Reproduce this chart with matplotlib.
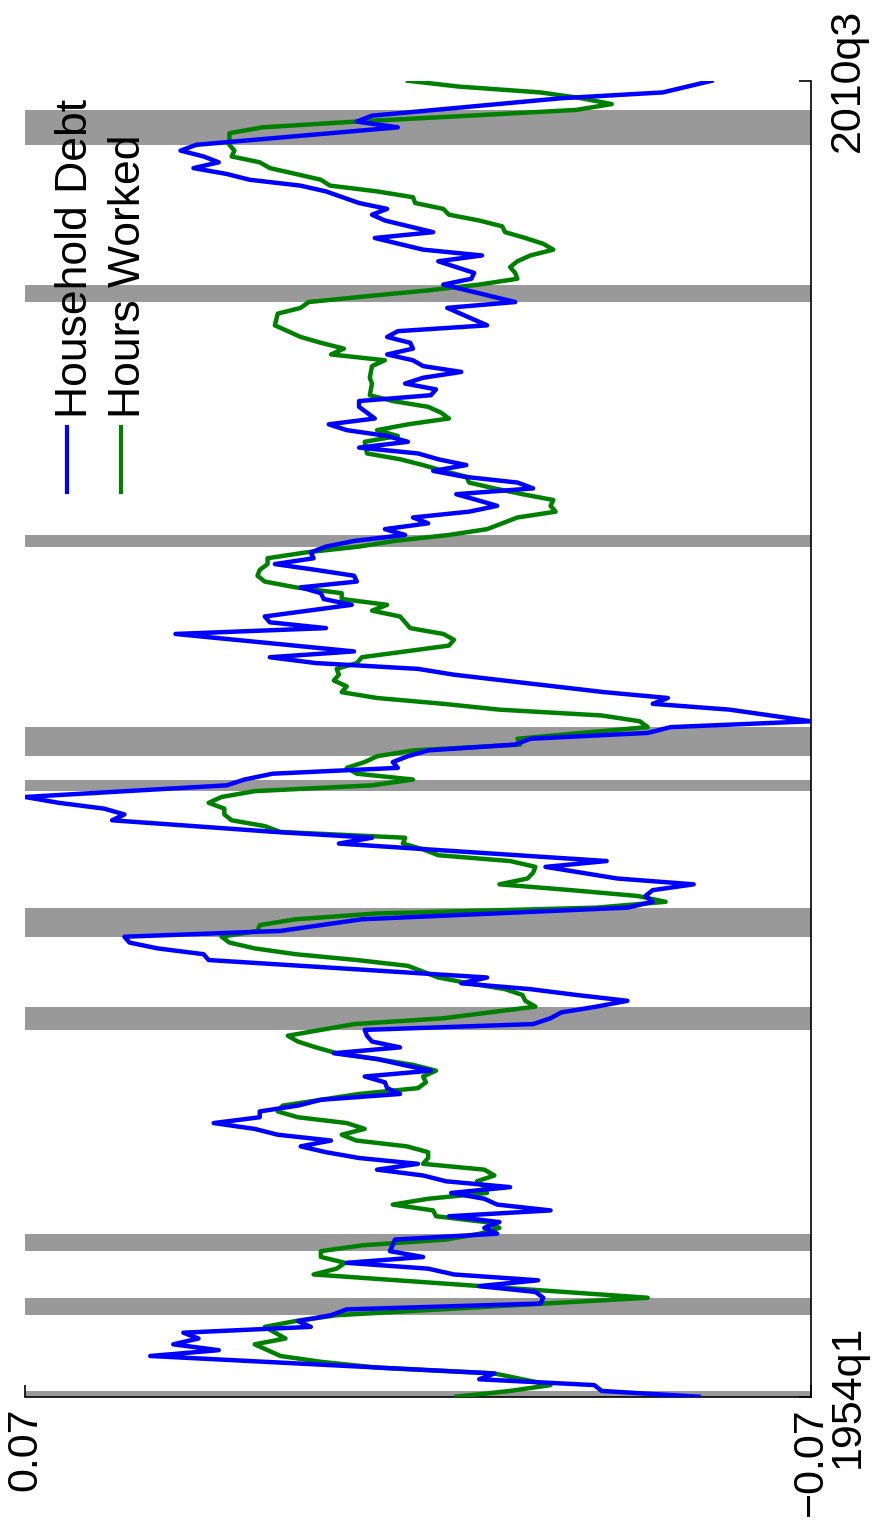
import matplotlib
matplotlib.use("Agg")
import matplotlib.pyplot as plt
from matplotlib.lines import Line2D

plt.rcParams['font.family'] = ['Liberation Sans', 'DejaVu Sans']

# quarters counted from 1954q1 (0) to 2010q3 (226)
tick_quarters = [0, 226]
tick_labels = ['1954q1', '2010q3']
value_ticks = [0.07, -0.07]
value_labels = ['0.07', '\u22120.07']

# NBER recessions, start/end quarter index
rec_start = [0, 14, 25, 63, 79, 104, 110, 146, 188, 215]
rec_end = [1, 17, 28, 67, 84, 106, 115, 148, 191, 221]

debt_q = [0, 1, 2, 3, 4, 7, 8, 9, 10, 11, 12, 13, 14, 15, 16, 17, 18, 19, 20, 21,
          22, 23, 24, 25, 27, 28, 29, 30, 31, 32, 33, 34, 35, 36, 37, 38, 39, 40, 41, 42,
          43, 44, 45, 46, 47, 48, 49, 50, 51, 52, 53, 54, 55, 56, 57, 58, 59, 60, 61, 62,
          63, 64, 65, 66, 67, 68, 69, 70, 71, 72, 75, 76, 77, 78, 79, 80, 81, 82, 84, 85,
          86, 87, 88, 89, 90, 91, 92, 95, 96, 97, 99, 100, 101, 102, 103, 104, 105, 106, 107, 108,
          109, 110, 111, 112, 113, 114, 115, 116, 117, 118, 119, 120, 121, 124, 125, 126, 127, 128, 131, 132,
          133, 134, 135, 136, 137, 138, 139, 140, 141, 142, 143, 144, 145, 146, 147, 148, 149, 150, 151, 152,
          153, 154, 155, 156, 157, 158, 159, 160, 161, 162, 163, 164, 165, 166, 167, 168, 169, 170, 171, 172,
          173, 174, 175, 176, 177, 178, 179, 180, 181, 182, 183, 184, 187, 188, 191, 192, 193, 195, 196, 197,
          199, 200, 202, 203, 204, 205, 207, 208, 209, 210, 211, 212, 213, 214, 215, 218, 219, 220, 223, 224,
          226]
debt_v = [-0.0500, -0.0327, -0.0314, -0.0109, -0.0136, 0.0477, 0.0355, 0.0436, 0.0391, 0.0418,
          0.0191, 0.0214, 0.0155, 0.0127, -0.0218, -0.0223, -0.0209, -0.0109, -0.0214, -0.0064,
          -0.0018, 0.0127, -0.0009, 0.0050, 0.0041, -0.0141, -0.0118, -0.0145, -0.0055, -0.0236,
          -0.0141, -0.0118, -0.0059, -0.0164, -0.0050, -0.0009, 0.0073, 0.0000, 0.0105, 0.0164,
          0.0209, 0.0155, 0.0250, 0.0291, 0.0364, 0.0282, 0.0282, 0.0214, 0.0173, 0.0032,
          0.0055, 0.0059, 0.0095, -0.0023, 0.0027, 0.0073, 0.0150, 0.0032, 0.0082, 0.0091,
          0.0095, -0.0205, -0.0236, -0.0255, -0.0318, -0.0373, -0.0282, -0.0200, -0.0077, -0.0123,
          0.0373, 0.0382, 0.0464, 0.0514, 0.0523, 0.0245, 0.0173, 0.0100, -0.0373, -0.0418,
          -0.0405, -0.0418, -0.0491, -0.0355, -0.0291, -0.0227, -0.0336, 0.0141, 0.0082, 0.0255,
          0.0545, 0.0523, 0.0559, 0.0640, 0.0700, 0.0520, 0.0341, 0.0309, 0.0259, 0.0036,
          0.0045, 0.0018, -0.0018, -0.0173, -0.0200, -0.0409, -0.0450, -0.0700, -0.0627, -0.0555,
          -0.0418, -0.0445, -0.0332, -0.0064, 0.0000, 0.0182, 0.0264, 0.0114, 0.0432, 0.0164,
          0.0264, 0.0273, 0.0195, 0.0118, 0.0168, 0.0173, 0.0209, 0.0109, 0.0114, 0.0182,
          0.0255, 0.0186, 0.0191, 0.0164, 0.0112, 0.0023, 0.0059, -0.0018, 0.0009, -0.0091,
          -0.0141, -0.0105, -0.0068, -0.0205, -0.0177, -0.0082, -0.0027, -0.0086, -0.0036, 0.0000,
          0.0105, 0.0018, 0.0055, 0.0127, 0.0159, 0.0077, 0.0091, 0.0105, 0.0105, -0.0023,
          -0.0032, 0.0023, -0.0009, -0.0077, -0.0009, 0.0009, 0.0055, 0.0009, 0.0014, 0.0055,
          0.0036, -0.0123, -0.0052, -0.0173, -0.0045, -0.0095, -0.0100, -0.0036, -0.0114, -0.0009,
          0.0077, -0.0027, 0.0059, 0.0082, 0.0055, 0.0105, 0.0164, 0.0210, 0.0300, 0.0341,
          0.0400, 0.0355, 0.0382, 0.0423, 0.0395, 0.0036, 0.0109, 0.0082, -0.0255, -0.0436,
          -0.0523]

hours_q = [0, 1, 2, 4, 5, 6, 7, 9, 10, 12, 13, 14, 17, 21, 22, 23, 24, 25, 26, 27,
           28, 29, 30, 31, 32, 33, 34, 35, 36, 37, 38, 39, 40, 41, 42, 43, 44, 45, 46, 47,
           48, 49, 50, 51, 52, 53, 54, 55, 56, 57, 58, 59, 60, 61, 62, 63, 64, 65, 66, 67,
           68, 69, 70, 71, 72, 73, 74, 75, 76, 77, 78, 79, 80, 81, 82, 83, 84, 85, 86, 87,
           88, 89, 90, 91, 92, 93, 94, 95, 96, 97, 98, 99, 100, 101, 102, 103, 104, 105, 106, 107,
           108, 109, 110, 111, 112, 113, 114, 115, 116, 117, 118, 119, 120, 121, 122, 123, 124, 125, 126, 127,
           128, 129, 130, 131, 132, 133, 134, 135, 136, 137, 138, 139, 140, 141, 142, 143, 144, 145, 146, 147,
           148, 149, 150, 151, 152, 153, 154, 155, 156, 157, 158, 159, 160, 161, 162, 164, 165, 166, 167, 168,
           169, 170, 171, 172, 174, 175, 177, 178, 179, 180, 181, 182, 184, 186, 187, 188, 189, 190, 191, 192,
           193, 194, 195, 196, 197, 198, 199, 200, 201, 202, 203, 204, 205, 206, 207, 208, 209, 210, 211, 212,
           213, 214, 215, 217, 218, 219, 220, 221, 222, 223, 224, 225, 226]
hours_v = [-0.0068, -0.0164, -0.0236, -0.0136, 0.0073, 0.0173, 0.0245, 0.0291, 0.0236, 0.0273,
           0.0218, 0.0145, -0.0409, 0.0186, 0.0145, 0.0130, 0.0173, 0.0173, 0.0100, -0.0050,
           -0.0110, -0.0145, -0.0120, -0.0032, -0.0027, 0.0045, -0.0018, -0.0123, -0.0118, -0.0105,
           -0.0136, -0.0118, -0.0009, -0.0018, -0.0018, 0.0020, 0.0110, 0.0136, 0.0095, 0.0127,
           0.0214, 0.0250, 0.0241, 0.0173, 0.0105, 0.0000, -0.0014, -0.0009, -0.0032, 0.0009,
           0.0073, 0.0145, 0.0182, 0.0214, 0.0232, 0.0173, 0.0114, -0.0045, -0.0127, -0.0209,
           -0.0191, -0.0186, -0.0155, -0.0091, -0.0036, -0.0009, 0.0018, 0.0109, 0.0218, 0.0291,
           0.0336, 0.0350, 0.0286, 0.0282, 0.0218, 0.0073, -0.0318, -0.0441, -0.0391, -0.0273,
           -0.0145, -0.0195, -0.0205, -0.0209, -0.0164, -0.0036, -0.0009, 0.0027, 0.0023, 0.0245,
           0.0273, 0.0332, 0.0345, 0.0345, 0.0373, 0.0350, 0.0291, 0.0082, 0.0009, 0.0109,
           0.0127, 0.0095, 0.0073, 0.0009, -0.0182, -0.0177, -0.0291, -0.0409, -0.0395, -0.0327,
           -0.0145, -0.0045, 0.0073, 0.0136, 0.0127, 0.0150, 0.0141, 0.0145, 0.0109, 0.0100,
           0.0023, -0.0055, -0.0064, -0.0045, 0.0014, 0.0023, 0.0032, 0.0082, 0.0055, 0.0136,
           0.0136, 0.0218, 0.0273, 0.0286, 0.0282, 0.0268, 0.0268, 0.0200, 0.0105, 0.0040,
           -0.0055, -0.0123, -0.0150, -0.0177, -0.0245, -0.0236, -0.0241, -0.0186, -0.0136, -0.0091,
           -0.0086, -0.0045, -0.0009, 0.0032, 0.0091, 0.0095, 0.0036, 0.0073, 0.0018, -0.0055,
           -0.0041, -0.0018, 0.0045, 0.0086, 0.0082, 0.0086, 0.0082, 0.0059, 0.0155, 0.0132,
           0.0173, 0.0209, 0.0255, 0.0250, 0.0209, 0.0195, 0.0091, -0.0018, -0.0109, -0.0177,
           -0.0173, -0.0164, -0.0177, -0.0200, -0.0241, -0.0223, -0.0191, -0.0155, -0.0150, -0.0109,
           -0.0055, -0.0045, 0.0005, 0.0009, 0.0073, 0.0157, 0.0173, 0.0218, 0.0264, 0.0282,
           0.0332, 0.0327, 0.0336, 0.0336, 0.0277, 0.0109, -0.0091, -0.0282, -0.0345, -0.0291,
           -0.0218, -0.0073, 0.0018]

fig = plt.figure(figsize=(8.72, 15.24), dpi=100)
ax = fig.add_axes([0.0287, 0.0835, 0.9014, 0.8635])

for s, e in zip(rec_start, rec_end):
    ax.axhspan(s, e, color='#999999', lw=0, zorder=1)

ax.plot(hours_v, hours_q, color=(0, 0.5, 0), lw=3.2, zorder=3)
ax.plot(debt_v, debt_q, color=(0, 0, 1), lw=3.2, zorder=4)

ax.set_xlim(0.07, -0.07)
ax.set_ylim(0, 226)

ax.spines['top'].set_visible(False)
ax.spines['left'].set_visible(False)
ax.spines['right'].set_linewidth(1.2)
ax.spines['bottom'].set_linewidth(1.2)

ax.yaxis.tick_right()
ax.set_yticks(tick_quarters, tick_labels)
ax.set_xticks(value_ticks, value_labels)
ax.tick_params(axis='both', direction='in', length=9, width=1.2, labelsize=31, labelrotation=90)
ax.tick_params(axis='x', pad=8)
ax.tick_params(axis='y', pad=12)
for lbl in ax.get_yticklabels():
    lbl.set_va('center')

# legend drawn by hand, turned like the rest of the chart
for x, col in [(0.0768, (0, 0, 1)), (0.1388, (0, 0.5, 0))]:
    fig.add_artist(Line2D([x, x], [0.6772, 0.7198], color=col, lw=3, transform=fig.transFigure))
fig.text(0.0998, 0.7257, 'Household Debt', rotation=90, rotation_mode='anchor',
         ha='left', va='baseline', fontsize=32)
fig.text(0.1606, 0.7257, 'Hours Worked', rotation=90, rotation_mode='anchor',
         ha='left', va='baseline', fontsize=32)

fig.savefig('out.png', dpi=100)
